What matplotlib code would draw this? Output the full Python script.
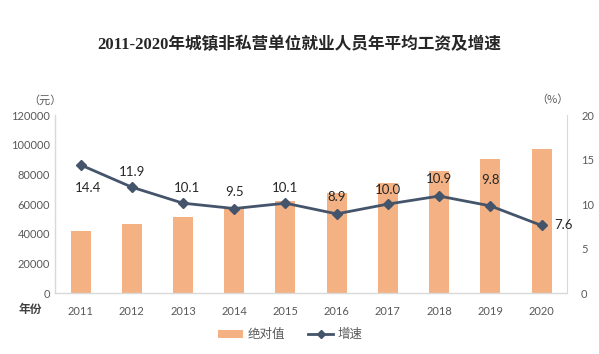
import matplotlib
matplotlib.use("Agg")
import matplotlib.pyplot as plt
from matplotlib.lines import Line2D
from matplotlib.patches import Patch

plt.rcParams['font.family'] = ['Lato', 'Noto Sans CJK SC', 'DejaVu Sans']

years = ['2011', '2012', '2013', '2014', '2015', '2016', '2017', '2018', '2019', '2020']
wages = [41799, 46769, 51483, 56360, 62029, 67569, 74318, 82413, 90501, 97379]
growth = [14.4, 11.9, 10.1, 9.5, 10.1, 8.9, 10.0, 10.9, 9.8, 7.6]
growth_labels = ['14.4', '11.9', '10.1', '9.5', '10.1', '8.9', '10.0', '10.9', '9.8', '7.6']
left_ticks = [0, 20000, 40000, 60000, 80000, 100000, 120000]
right_ticks = [0, 5, 10, 15, 20]

# label offsets in pixels (layout, not data)
label_offsets = [(7, -23), (0, 15), (4, 15), (0, 17), (0, 15), (0, 17), (0, 14), (0, 17), (0, 26), (13, 0)]

bar_color = '#F4B183'
line_color = '#44546A'
tick_color = '#595959'
spine_color = '#D9D9D9'

fig = plt.figure(figsize=(5.99, 3.54), dpi=100)
ax = fig.add_axes([0.0918, 0.172, 0.855, 0.503])
x = list(range(len(years)))
ax.bar(x, wages, width=0.39, color=bar_color, zorder=2)
ax.set_xlim(-0.5, 9.5)
ax.set_ylim(0, 120000)
ax.set_yticks(left_ticks)
ax.set_yticklabels([str(t) for t in left_ticks])
ax.set_xticks(x)
ax.set_xticklabels(years)
ax.tick_params(axis='both', length=0, colors=tick_color, labelsize=8)
ax.tick_params(axis='x', pad=9)
for s in ['top', 'right']:
    ax.spines[s].set_visible(False)
for s in ['left', 'bottom']:
    ax.spines[s].set_color(spine_color)
    ax.spines[s].set_linewidth(1.0)

ax2 = ax.twinx()
ax2.plot(x, growth, color=line_color, lw=2.0, marker='D', markersize=5, zorder=3)
ax2.set_ylim(0, 20)
ax2.set_yticks(right_ticks)
ax2.tick_params(axis='y', length=0, colors=tick_color, labelsize=8, pad=10)
for s in ['top', 'left', 'bottom']:
    ax2.spines[s].set_visible(False)
ax2.spines['right'].set_color(spine_color)

for xi, g, lab, off in zip(x, growth, growth_labels, label_offsets):
    ha = 'left' if off[0] > 10 else 'center'
    ax2.annotate(lab, (xi, g), xytext=off, textcoords='offset pixels',
                 ha=ha, va='center', fontsize=9.5, color='#262626')

fig.text(0.5, 0.873, '2011-2020年城镇非私营单位就业人员年平均工资及增速',
         ha='center', va='center', fontsize=12, fontweight='bold', color='#262626',
         family=['Liberation Serif', 'Noto Sans CJK SC'])
fig.text(0.075, 0.715, '（元）', ha='center', va='center', fontsize=8, color=tick_color,
         family=['Noto Sans CJK SC'])
fig.text(0.923, 0.718, '（%）', ha='center', va='center', fontsize=8, color=tick_color,
         family=['Noto Sans CJK SC'])
fig.text(0.05, 0.125, '年份', ha='center', va='center', fontsize=8.5, color='#404040',
         family=['Noto Sans CJK SC'], fontweight='bold')

handles = [Patch(facecolor=bar_color, edgecolor='none'),
           Line2D([0], [0], color=line_color, lw=2.0, marker='D', markersize=4)]
fig.legend(handles, ['绝对值', '增速'], loc='center', bbox_to_anchor=(0.485, 0.055),
           ncol=2, frameon=False, fontsize=9, labelcolor=tick_color,
           handlelength=2.0, handleheight=0.6, columnspacing=1.8, handletextpad=0.4,
           prop={'family': ['Noto Sans CJK SC'], 'size': 9})

fig.savefig('out.png', dpi=100, facecolor='white')
